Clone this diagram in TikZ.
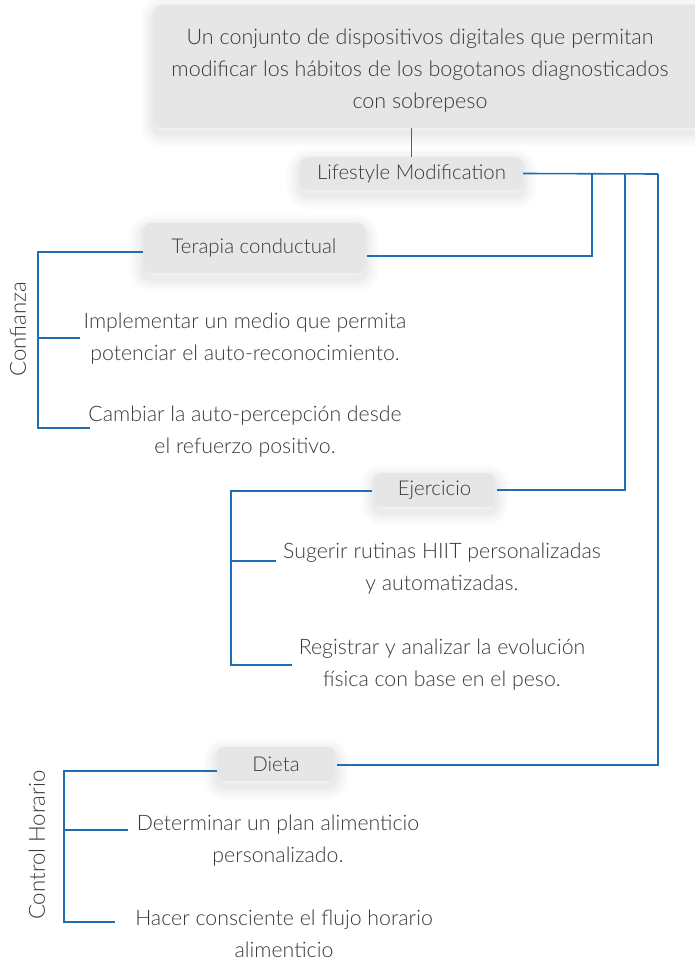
\documentclass[tikz,border=0pt]{standalone}
\usepackage{fontspec}
\IfFontExistsTF{Lato Light}{\setmainfont{Lato Light}}{\setmainfont{Lato}}
\definecolor{linkblue}{HTML}{1F6EB4}
\definecolor{boxgray}{HTML}{E6E6E6}
\definecolor{txt}{HTML}{3A3A3A}
\tikzset{
  link/.style={draw=linkblue, line width=1.6pt},
  halo/.style={preaction={draw=black, draw opacity=0.016, line width=#1, transform canvas={yshift=-5pt}}},
  pill/.style={fill=boxgray, rounded corners=8pt, text=txt, font=\fontsize{20.4}{22}\selectfont,
    halo=26pt, halo=20pt, halo=14pt, halo=9pt, halo=5pt},
  label/.style={text=txt, align=center, font=\fontsize{21.3}{32}\selectfont},
  side/.style={text=txt, rotate=90, font=\fontsize{22.2}{23}\selectfont}
}
\begin{document}
\begin{tikzpicture}[x=1pt, y=-1pt]
\useasboundingbox (0,0) rectangle (695,960);
\fill[white] (0,0) rectangle (695,960);

% objective
\node[pill, minimum width=560pt, minimum height=123pt] (goalbox) at (434,66.5) {};
\node[label, font=\fontsize{21.5}{32}\selectfont] (goal) at (420,71)
  {Un conjunto de dispositivos digitales que permitan\\
   modificar los hábitos de los bogotanos diagnosticados\\
   con sobrepeso};

% main branch
\node[pill, minimum width=223pt, minimum height=33pt] (life) at (411.5,173.5) {Lifestyle Modification};
\draw[link] (life.north |- goalbox.south) -- (life.north);

\coordinate (ta) at (592,174);
\coordinate (tb) at (625,174);
\coordinate (tc) at (658,174);

% Terapia conductual
\node[pill, minimum width=222pt, minimum height=50pt] (ter) at (254,248) {Terapia conductual};
\node[label] (imp) at (245,339) {Implementar un medio que permita\\potenciar el auto-reconocimiento.};
\node[label] (cam) at (245,432) {Cambiar la auto-percepción desde\\el refuerzo positivo.};
\node[side] (conf) at (18,329) {Confianza};
\coordinate (terL) at (143,252);
\coordinate (terR) at (367,256);
\coordinate (bT) at (38,252);
\coordinate (impE) at (80,338);
\coordinate (camE) at (90,428);

% Ejercicio
\node[pill, minimum width=121pt, minimum height=34pt] (eje) at (434.5,490) {Ejercicio};
\node[label] (sug) at (442,569) {Sugerir rutinas HIIT personalizadas\\y automatizadas.};
\node[label] (reg) at (442,665) {Registrar y analizar la evolución\\física con base en el peso.};
\coordinate (ejeL) at (372,491);
\coordinate (ejeR) at (497,490);
\coordinate (bE) at (231,491);
\coordinate (sugE) at (276,561);
\coordinate (regE) at (292,665);

% Dieta
\node[pill, minimum width=118pt, minimum height=34pt] (die) at (276,764) {Dieta};
\node[label] (det) at (278,841) {Determinar un plan alimenticio\\personalizado.};
\node[label] (hac) at (284,934) {Hacer consciente el flujo horario\\alimenticio};
\node[side] (ctrl) at (37,845) {Control Horario};
\coordinate (dieL) at (217,771);
\coordinate (dieR) at (337,765);
\coordinate (bD) at (64,771);
\coordinate (detE) at (128,830);
\coordinate (hacE) at (115,922);

% connectors
\draw[link] (life.east) -- (tc);
\draw[link] (ta) -- (ta |- terR) -- (terR);
\draw[link] (tb) -- (tb |- ejeR) -- (ejeR);
\draw[link] (tc) -- (tc |- dieR) -- (dieR);

\draw[link] (terL) -- (bT) -- (bT |- camE) -- (camE);
\draw[link] (bT |- impE) -- (impE);

\draw[link] (ejeL) -- (bE) -- (bE |- regE) -- (regE);
\draw[link] (bE |- sugE) -- (sugE);

\draw[link] (dieL) -- (bD) -- (bD |- hacE) -- (hacE);
\draw[link] (bD |- detE) -- (detE);
\end{tikzpicture}
\end{document}
